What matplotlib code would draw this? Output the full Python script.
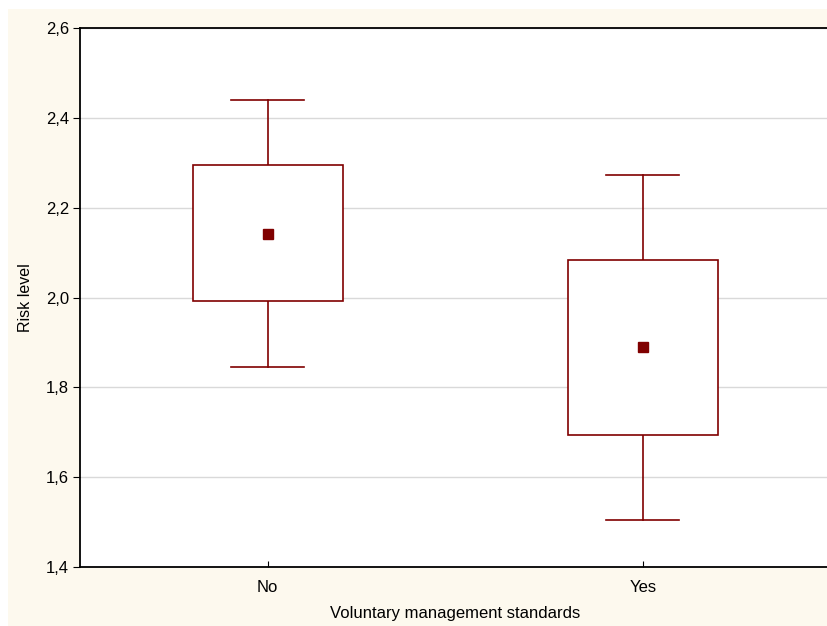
import matplotlib.pyplot as plt
from matplotlib.patches import Rectangle
from matplotlib.ticker import FuncFormatter

#Data
groups = ['No', 'Yes']
means = [2.141, 1.890]
box_low = [1.992, 1.694]
box_high = [2.295, 2.084]
whisk_low = [1.845, 1.505]
whisk_high = [2.440, 2.273]

dark_red = '#800000'
cream = '#fdf9ee'
box_w = 0.4
cap_w = 0.195

plt.rcParams['font.family'] = ['Liberation Sans', 'DejaVu Sans']

fig = plt.figure(figsize=(8.27, 6.26), dpi=100, facecolor='white')
fig.patches.append(Rectangle((8/827, 0), 1, (626-9)/626, transform=fig.transFigure,
                             facecolor=cream, edgecolor='none', zorder=-10))
ax = fig.add_axes([80/827, (626-567)/626, 1 - 80/827 + 0.004, (567-28)/626])
ax.set_facecolor('white')

for i in range(len(groups)):
    #whiskers
    ax.plot([i, i], [whisk_low[i], box_low[i]], color=dark_red, lw=1.2, zorder=3)
    ax.plot([i, i], [box_high[i], whisk_high[i]], color=dark_red, lw=1.2, zorder=3)
    ax.plot([i - cap_w/2, i + cap_w/2], [whisk_low[i]]*2, color=dark_red, lw=1.2, zorder=3)
    ax.plot([i - cap_w/2, i + cap_w/2], [whisk_high[i]]*2, color=dark_red, lw=1.2, zorder=3)
    #box
    ax.add_patch(Rectangle((i - box_w/2, box_low[i]), box_w, box_high[i] - box_low[i],
                           facecolor='white', edgecolor=dark_red, lw=1.2, zorder=3))
    #mean
    ax.plot(i, means[i], 's', color=dark_red, markersize=7, zorder=4)

ax.set_xlim(-0.5, 1.5)
ax.set_ylim(1.4, 2.6)
ax.set_yticks([1.4, 1.6, 1.8, 2.0, 2.2, 2.4, 2.6])
ax.yaxis.set_major_formatter(FuncFormatter(lambda v, p: f'{v:.1f}'.replace('.', ',')))
ax.set_xticks(range(len(groups)))
ax.set_xticklabels(groups)
ax.grid(axis='y', color='#d9d9d9', lw=1)
ax.set_axisbelow(True)

for s in ['right']:
    ax.spines[s].set_visible(False)
for s in ['left', 'bottom', 'top']:
    ax.spines[s].set_linewidth(1.3)

ax.tick_params(axis='y', direction='out', length=5, labelsize=12, pad=3)
ax.tick_params(axis='x', direction='in', length=4, labelsize=12, pad=9)
ax.set_xlabel('Voluntary management standards', fontsize=12, labelpad=8)
ax.set_ylabel('Risk level', fontsize=11.5, labelpad=9)

fig.savefig('out.png', dpi=100, facecolor=fig.get_facecolor())
